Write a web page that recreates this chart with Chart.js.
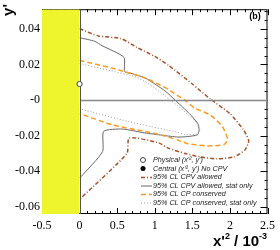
<!DOCTYPE html>
<html>
<head>
<meta charset="utf-8">
<script src="https://cdn.jsdelivr.net/npm/chart.js@4.4.0/dist/chart.umd.min.js"></script>
<style>
  html, body { margin:0; padding:0; background:#fff; }
  #wrap { width:280px; height:250px; }
</style>
</head>
<body>
<div id="wrap"><canvas id="c" width="280" height="250"></canvas></div>
<script>
// axis ranges and tick labels
const xRange = [-0.5, 2.5];
const yRange = [-0.064, 0.051];
const xTicks = [-0.5, 0, 0.5, 1, 1.5, 2, 2.5];
const yTicks = [-0.06, -0.04, -0.02, 0, 0.02, 0.04];
const physicalX = [-0.5, 0];   // unphysical (x'^2 < 0) band

// markers
const physicalPt = { x: 0, y: 0.009 };
const centralPt  = { x: -0.33, y: 0.0135 };

// 95% CL CPV allowed (dash-dot)
const cpvX = [0, 0.25, 0.55, 0.76, 1.0, 1.18, 1.5, 1.74, 2.0, 2.18, 2.25, 2.2, 2.05, 1.83, 1.61, 1.4, 1.18, 1.05, 0.66, 0.63, 0.02, 0];
const cpvY = [0.040, 0.036, 0.0345, 0.0296, 0.0245, 0.0196, 0.009, 0.0005, -0.0076, -0.0167, -0.023, -0.028, -0.032, -0.033, -0.032, -0.030, -0.027, -0.024, -0.0213, -0.030, -0.055, -0.056];

// 95% CL CPV allowed, stat only (solid)
const cpvStatX = [0, 0.2, 0.3, 0.59, 0.6, 0.7, 0.87, 1.02, 1.14, 1.27, 1.46, 1.57, 1.59, 1.57, 1.44, 1.31, 1.1, 0.87, 0.57, 0.32, 0.305, 0.02, 0];
const cpvStatY = [0.035, 0.033, 0.0305, 0.024, 0.016, 0.0148, 0.0124, 0.0085, 0.005, 0, -0.0076, -0.013, -0.0167, -0.0195, -0.0205, -0.0208, -0.0198, -0.0185, -0.0163, -0.0176, -0.029, -0.043, -0.0435];

// 95% CL CP conserved (dashed)
const cpcX = [0, 0.44, 0.87, 1.18, 1.31, 1.40, 1.53, 1.74, 1.9, 1.97, 1.92, 1.70, 1.44, 1.31, 1.1, 0.87, 0.44, 0];
const cpcY = [0.0223, 0.0178, 0.0124, 0.006, 0.0023, 0, -0.0045, -0.0085, -0.0149, -0.0222, -0.025, -0.0258, -0.0245, -0.0225, -0.0198, -0.0176, -0.014, -0.0076];

// 95% CL CP conserved, stat only (dotted)
const cpcStatX = [0, 0.37, 0.76, 0.87, 1.0, 1.14, 1.2, 1.3, 1.45, 1.56, 1.6, 1.55, 1.4, 1.31, 0.66, 0];
const cpcStatY = [0.0205, 0.0169, 0.0128, 0.0103, 0.0068, 0.0023, 0, -0.003, -0.0085, -0.013, -0.0165, -0.019, -0.0195, -0.0182, -0.0122, -0.0049];

const legendLabels = [
  "Physical (x'\u00B2, y')",
  "Central (x'\u00B2, y') No CPV",
  "95% CL CPV allowed",
  "95% CL CPV allowed, stat only",
  "95% CL CP conserved",
  "95% CL CP conserved, stat only"
];

const BROWN = '#a4522a', ORANGE = '#ff9a1e', GRAY = '#666666', LGRAY = '#9a9a9a', YELLOW = '#eef52c';

function pts(xs, ys){ return xs.map((x,i)=>({ x, y: ys[i] })); }

function curve(xs, ys, color, dash, width){
  return { type:'line', data: pts(xs, ys), borderColor: color, borderDash: dash,
           borderWidth: width, pointRadius: 0, fill: false, tension: 0.2, showLine: true };
}

// frame, inward ticks, zero lines, legend and titles
const decor = {
  id: 'decor',
  beforeDatasetsDraw(chart){
    const { ctx, chartArea: a, scales: { x, y } } = chart;
    ctx.save();
    ctx.strokeStyle = '#000'; ctx.lineWidth = 1;
    ctx.strokeRect(a.left + 0.5, a.top + 0.5, a.right - a.left - 1, a.bottom - a.top - 1);
    ctx.beginPath();
    for (let v = -5; v <= 25; v++) {
      const px = Math.round(x.getPixelForValue(v / 10)) + 0.5;
      const len = v % 5 === 0 ? 6 : 3;
      ctx.moveTo(px, a.bottom); ctx.lineTo(px, a.bottom - len);
      ctx.moveTo(px, a.top); ctx.lineTo(px, a.top + len);
    }
    for (let v = -12; v <= 10; v++) {
      const py = Math.round(y.getPixelForValue(v * 0.005)) + 0.5;
      const len = v % 4 === 0 ? 7 : 3;
      ctx.moveTo(a.right, py); ctx.lineTo(a.right - len, py);
    }
    ctx.stroke();
    ctx.restore();
  },
  afterDatasetsDraw(chart){
    const { ctx, chartArea: a, scales: { x, y } } = chart;
    ctx.save();
    // zero lines
    const x0 = Math.round(x.getPixelForValue(0)) + 0.5;
    const y0 = Math.round(y.getPixelForValue(0)) + 0.5;
    ctx.strokeStyle = '#888'; ctx.lineWidth = 1.3;
    ctx.beginPath();
    ctx.moveTo(x0, y0); ctx.lineTo(a.right, y0);
    ctx.stroke();
    ctx.strokeStyle = '#555'; ctx.lineWidth = 1;
    ctx.beginPath(); ctx.moveTo(x0, a.top); ctx.lineTo(x0, a.bottom); ctx.stroke();

    // physical point on top
    ctx.fillStyle = '#fff'; ctx.strokeStyle = '#444'; ctx.lineWidth = 1;
    ctx.beginPath();
    ctx.arc(x.getPixelForValue(physicalPt.x), y.getPixelForValue(physicalPt.y), 2.6, 0, Math.PI*2);
    ctx.fill(); ctx.stroke();

    // legend
    const lx = 141, ly = 160, dy = 8.5;
    ctx.font = 'italic 7.2px "Liberation Sans", Arial, sans-serif';
    ctx.textBaseline = 'middle';
    const styles = [
      { kind:'open' }, { kind:'dot' },
      { c: BROWN, d: [4,2,1,2], w: 1.5 },
      { c: GRAY, d: [], w: 1 },
      { c: ORANGE, d: [5,3], w: 1.5 },
      { c: LGRAY, d: [1,2], w: 1 }
    ];
    legendLabels.forEach((t, i) => {
      const yy = ly + i * dy, s = styles[i];
      if (s.kind === 'open') {
        ctx.strokeStyle = '#444'; ctx.lineWidth = 1; ctx.setLineDash([]);
        ctx.beginPath(); ctx.arc(lx + 2, yy, 2.5, 0, Math.PI*2); ctx.stroke();
      } else if (s.kind === 'dot') {
        ctx.fillStyle = '#000';
        ctx.beginPath(); ctx.arc(lx + 2, yy, 2.5, 0, Math.PI*2); ctx.fill();
      } else {
        ctx.strokeStyle = s.c; ctx.lineWidth = s.w; ctx.setLineDash(s.d);
        ctx.beginPath(); ctx.moveTo(lx, yy + 0.5); ctx.lineTo(lx + 11, yy + 0.5); ctx.stroke();
        ctx.setLineDash([]);
      }
      ctx.fillStyle = '#222';
      ctx.fillText(t, lx + 12, yy);
    });

    // (b)
    ctx.fillStyle = '#000';
    ctx.font = 'bold 9px "Liberation Sans", Arial, sans-serif';
    ctx.textAlign = 'center';
    ctx.fillText('(b)', 255, 17);

    // x title
    ctx.textAlign = 'left'; ctx.textBaseline = 'alphabetic';
    ctx.font = 'bold 15px "Liberation Sans", Arial, sans-serif';
    let tx = 213, ty = 246;
    ctx.fillText("x'", tx, ty); tx += ctx.measureText("x'").width;
    ctx.font = 'bold 9px "Liberation Sans", Arial, sans-serif';
    ctx.fillText('2', tx, ty - 7); tx += ctx.measureText('2').width;
    ctx.font = 'bold 15px "Liberation Sans", Arial, sans-serif';
    ctx.fillText(' / 10', tx, ty); tx += ctx.measureText(' / 10').width;
    ctx.font = 'bold 9px "Liberation Sans", Arial, sans-serif';
    ctx.fillText('-3', tx, ty - 7);

    // y title
    ctx.save();
    ctx.translate(13, 4);
    ctx.rotate(-Math.PI / 2);
    ctx.font = 'bold 15px "Liberation Sans", Arial, sans-serif';
    ctx.textAlign = 'right';
    ctx.fillText("y'", 0, 0);
    ctx.restore();
    ctx.restore();
  }
};

new Chart(document.getElementById('c'), {
  type: 'scatter',
  data: {
    datasets: [
      { type:'line', data: physicalX.map(x => ({ x, y: yRange[1] })), borderWidth: 0, pointRadius: 0,
        fill: 'start', backgroundColor: YELLOW, borderColor: YELLOW },
      curve(cpcStatX, cpcStatY, LGRAY, [1,2], 1),
      curve(cpcX, cpcY, ORANGE, [5,3], 1.5),
      curve(cpvStatX, cpvStatY, GRAY, [], 1),
      curve(cpvX, cpvY, BROWN, [4,2,1,2], 1.5),
      { data: [centralPt], pointRadius: 3, backgroundColor: '#000', borderColor: '#000' }
    ]
  },
  options: {
    responsive: false,
    animation: false,
    layout: { padding: { top: 3, right: 9, left: 0, bottom: 0 } },
    plugins: { legend: { display: false }, tooltip: { enabled: false } },
    scales: {
      x: {
        min: xRange[0], max: xRange[1],
        afterBuildTicks: s => { s.ticks = xTicks.map(v => ({ value: v })); },
        afterFit: s => { s.height = 36; },
        ticks: { font: { family: '"Liberation Serif", "Times New Roman", serif', size: 12 }, color: '#000',
                 padding: 5, maxRotation: 0, callback: v => String(v) },
        grid: { display: false, drawTicks: false }, border: { display: false }
      },
      y: {
        min: yRange[0], max: yRange[1],
        afterBuildTicks: s => { s.ticks = yTicks.map(v => ({ value: v })); },
        afterFit: s => { s.width = 42; },
        ticks: { font: { family: '"Liberation Serif", "Times New Roman", serif', size: 12 }, color: '#000',
                 padding: 2, callback: v => Math.abs(v) < 1e-9 ? '-0' : v.toFixed(2) },
        grid: { display: false, drawTicks: false }, border: { display: false }
      }
    }
  },
  plugins: [decor]
});
</script>
</body>
</html>
